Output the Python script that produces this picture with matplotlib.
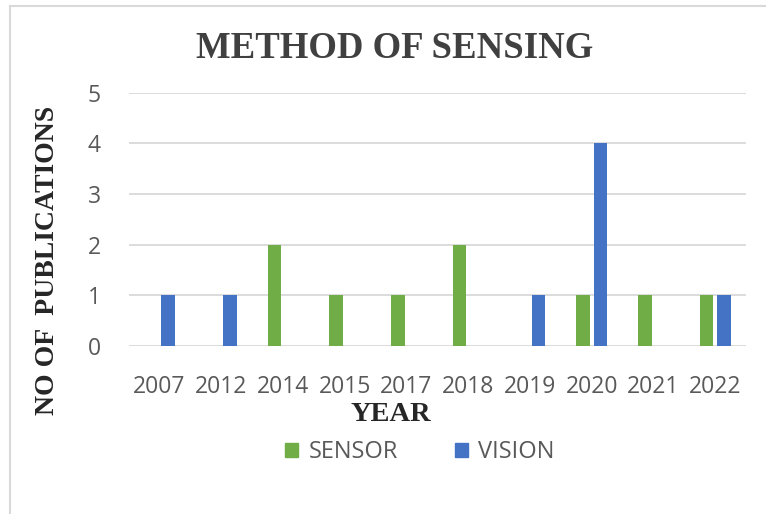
import matplotlib
matplotlib.use("Agg")
import matplotlib.pyplot as plt
from matplotlib.patches import Patch
import numpy as np

years = ["2007", "2012", "2014", "2015", "2017", "2018", "2019", "2020", "2021", "2022"]
sensor = [0, 0, 2, 1, 1, 2, 0, 1, 1, 1]
vision = [1, 1, 0, 0, 0, 0, 1, 4, 0, 1]
y_ticks = [0, 1, 2, 3, 4, 5]

GREEN = "#70AD47"
BLUE = "#4472C4"
GRID = "#d9d9d9"
TICK = "#595959"
DARK = "#404040"

W, H = 766, 514
fig = plt.figure(figsize=(W / 100, H / 100), dpi=100)

# chart border (top & left visible)
fig.add_artist(plt.Line2D([10 / W, 10 / W], [0, 1 - 6 / H], transform=fig.transFigure, color=GRID, lw=1.5))
fig.add_artist(plt.Line2D([10 / W, 1], [1 - 6 / H, 1 - 6 / H], transform=fig.transFigure, color=GRID, lw=1.5))

ax = fig.add_axes([128.6 / W, 1 - 346 / H, (746 - 128.6) / W, (346 - 92.6) / H])
x = np.arange(len(years))
bw = 0.22
off = 0.14
ax.bar(x - off, sensor, width=bw, color=GREEN, zorder=3)
ax.bar(x + off, vision, width=bw, color=BLUE, zorder=3)

ax.set_xlim(-0.5, len(years) - 0.5)
ax.set_ylim(0, 5)
ax.set_yticks(y_ticks)
ax.set_xticks(x)
ax.set_xticklabels(years)
for s in ax.spines.values():
    s.set_visible(False)
ax.grid(axis="y", color=GRID, lw=1.3, zorder=0)
ax.set_axisbelow(True)
ax.tick_params(axis="both", length=0, colors=TICK, labelsize=16.5)
ax.tick_params(axis="y", pad=20)
ax.tick_params(axis="x", pad=21)
for lab in ax.get_xticklabels() + ax.get_yticklabels():
    lab.set_fontfamily("Open Sans")
    lab.set_color(TICK)

fig.text(394.5 / W, 1 - 58 / H, "METHOD OF SENSING", ha="center", va="baseline",
         fontsize=26.5, fontweight="bold", family="Liberation Serif", color=DARK)
fig.text(391 / W, 1 - 421 / H, "YEAR", ha="center", va="baseline",
         fontsize=20.5, fontweight="bold", family="Liberation Serif", color="#262626")
fig.text(48 / W, 1 - 260.5 / H, "NO OF  PUBLICATIONS", ha="center", va="center", rotation=90,
         fontsize=20, fontweight="bold", family="Liberation Serif", color="#262626")

handles = [Patch(color=GREEN, label="SENSOR"), Patch(color=BLUE, label="VISION")]
leg = fig.legend(handles=handles, loc="center", bbox_to_anchor=(420 / W, 1 - 452 / H), ncol=2,
                 frameon=False, handlelength=0.55, handleheight=0.55, handletextpad=0.45,
                 columnspacing=2.4, prop={"family": "Open Sans", "size": 17})
for t in leg.get_texts():
    t.set_color(TICK)

fig.savefig("out.png", dpi=100)
